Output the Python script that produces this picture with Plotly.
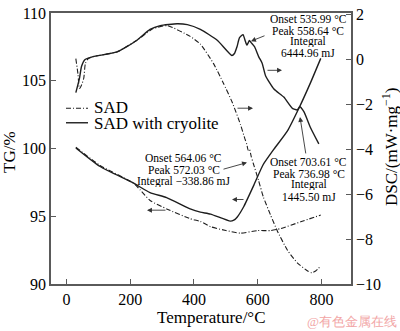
import plotly.graph_objects as go

# ---------------- data ----------------
# DSC, SAD (dash-dot), right axis
sad_dsc_T = [29, 36, 40, 47, 54, 59, 68, 83, 158, 221, 262, 272, 316, 388, 420, 461, 492, 520, 546,
             560, 566, 570, 574, 580, 586, 603, 618, 640, 662, 694, 725, 757, 770, 782, 798]
sad_dsc = [0.02, -0.70, -1.31, -1.15, -0.84, -0.19, 0.02, 0.11, 0.32, 0.84, 1.27, 1.36, 1.49, 1.01, 0.67,
           -0.19, -1.06, -1.92, -2.91, -3.55, -3.80, -4.05, -4.00, -4.35, -4.63, -5.41, -6.14, -6.92,
           -7.65, -8.51, -9.07, -9.42, -9.50, -9.42, -9.20]

# DSC, SAD with cryolite (solid), right axis
cry_dsc_T = [29, 40, 47, 58, 83, 158, 221, 262, 294, 347, 379, 420, 473, 519, 527, 535, 543, 554,
             560, 566, 570, 574, 580, 590, 603, 614, 625, 651, 682, 709, 724, 732, 745, 766, 792]
cry_dsc = [-1.49, -0.88, -0.32, -0.02, 0.11, 0.32, 0.84, 1.32, 1.49, 1.57, 1.53, 1.32, 0.84, 0.16, 0.25,
           0.55, 0.95, 1.09, 0.85, 0.62, 0.72, 0.83, 0.72, 0.55, 0.11, -0.18, -0.75, -1.33, -1.69, -2.19,
           -2.26, -2.12, -2.34, -3.05, -3.77]

# TG, SAD (dash-dot), left axis
sad_tg_T = [29, 105, 209, 231, 262, 316, 388, 420, 452, 500, 546, 599, 640, 672, 735, 798]
sad_tg = [100.09, 98.75, 97.46, 96.95, 96.16, 95.52, 94.82, 94.62, 94.23, 93.95, 93.75, 93.94, 93.94,
          94.09, 94.59, 95.09]

# TG, SAD with cryolite (solid), left axis
cry_tg_T = [29, 105, 209, 262, 314, 388, 420, 452, 514, 525, 536, 556, 588, 617, 651, 693, 729, 766, 798]
cry_tg = [100.04, 98.67, 97.46, 96.74, 96.38, 95.54, 95.30, 95.16, 94.64, 94.71, 94.95, 95.70, 97.30,
          98.80, 99.95, 101.28, 102.95, 104.86, 106.65]

series_names = ["SAD", "SAD with cryolite"]
x_ticks = [0, 200, 400, 600, 800]
tg_ticks = [90, 95, 100, 105, 110]
dsc_ticks = [-10, -8, -6, -4, -2, 0, 2]

# ---------------- styling ----------------
FONT = "Liberation Serif"
INK = "#1e1e1e"
AX = "#5a5a5a"
DASHDOT = "5px,2px,1px,2px"

L, R, T, B = 51, 351, 5, 284  # plot area in pixels


def px(xp):
    return (xp - L) / (R - L)


def py(yp):
    return (B - yp) / (B - T)


fig = go.Figure()
fig.add_trace(go.Scatter(x=sad_dsc_T, y=sad_dsc, mode="lines", name=series_names[0], yaxis="y2",
                         line=dict(color=INK, width=1.1, dash=DASHDOT, shape="spline", smoothing=0.5),
                         showlegend=False))
fig.add_trace(go.Scatter(x=cry_dsc_T, y=cry_dsc, mode="lines", name=series_names[1], yaxis="y2",
                         line=dict(color=INK, width=1.4, shape="spline", smoothing=0.5),
                         showlegend=False))
fig.add_trace(go.Scatter(x=sad_tg_T, y=sad_tg, mode="lines", name=series_names[0], yaxis="y",
                         line=dict(color=INK, width=1.1, dash=DASHDOT, shape="spline", smoothing=0.5),
                         showlegend=False))
fig.add_trace(go.Scatter(x=cry_tg_T, y=cry_tg, mode="lines", name=series_names[1], yaxis="y",
                         line=dict(color=INK, width=1.4, shape="spline", smoothing=0.5),
                         showlegend=False))

axis_common = dict(showgrid=False, zeroline=False, showline=True, linecolor=AX, linewidth=1.5,
                   ticks="inside", ticklen=5, tickcolor=AX, tickwidth=1.2, ticklabeloverflow="allow",
                   tickfont=dict(family=FONT, size=16, color="black"))

fig.update_layout(
    width=400, height=331,
    margin=dict(l=L, r=400 - R, t=T, b=331 - B),
    paper_bgcolor="white", plot_bgcolor="white",
    font=dict(family=FONT, color="black"),
    xaxis=dict(range=[-49, 893], tickvals=x_ticks, mirror=True, **axis_common),
    yaxis=dict(range=[90, 110], tickvals=tg_ticks, **axis_common),
    yaxis2=dict(range=[-10, 2.05], tickvals=dsc_ticks,
                ticktext=[str(v).replace("-", "\u2212") for v in dsc_ticks],
                overlaying="y", side="right", anchor="x", **axis_common),
)

ann = []


def text(xp, yp, s, size=11.5, angle=0, color="black", xanchor="center", height=None):
    a = dict(xref="paper", yref="paper", x=px(xp), y=py(yp), text=s, showarrow=False,
             xanchor=xanchor, yanchor="middle", textangle=angle,
             font=dict(family=FONT, size=size, color=color))
    if height is not None:
        a["height"] = height
        a["valign"] = "middle"
    ann.append(a)


def arrow(hx, hy, tx, ty):
    ann.append(dict(xref="paper", yref="paper", x=px(hx), y=py(hy), ax=tx - hx, ay=ty - hy, text="",
                    showarrow=True, arrowhead=2, arrowsize=1.1, arrowwidth=0.9, arrowcolor="#333"))


# axis titles
text(10, 148, "TG/%", size=17, angle=-90)
text(390, 143, "DSC/(mW·mg<sup>\u22121</sup>)", size=17, angle=-90)
text(211, 319, "Temperature/°C", size=17)

# peak annotations
for yy, s in zip([11, 23, 34.5, 46], ["Onset 535.99 °C", "Peak 558.64 °C", "Integral", "6444.96 mJ"]):
    text(308, yy, s, height=11)
for yy, s in zip([154, 166, 178], ["Onset 564.06 °C", "Peak 572.03 °C", "Integral \u2212338.86 mJ"]):
    text(183.5, yy, s, height=11)
for yy, s in zip([158, 170.5, 182, 193.5], ["Onset 703.61 °C", "Peak 736.98 °C", "Integral", "1445.50 mJ"]):
    text(308.5, yy, s, height=11)

arrow(251, 34, 266, 28)
arrow(247, 159, 222, 166)
arrow(300, 112, 306, 150)
arrow(147, 208, 167, 208)
arrow(232, 197, 245, 197)
arrow(282, 64, 266, 64)
arrow(253, 103, 236, 103)

# legend (drawn manually)
shapes = [
    dict(type="line", xref="paper", yref="paper", x0=px(66), x1=px(88), y0=py(103), y1=py(103),
         line=dict(color=INK, width=1.1, dash=DASHDOT)),
    dict(type="line", xref="paper", yref="paper", x0=px(66), x1=px(88), y0=py(118), y1=py(118),
         line=dict(color=INK, width=1.4)),
]
text(92, 102.5, series_names[0], size=17, xanchor="left")
text(92, 118.5, series_names[1], size=17, xanchor="left")

# watermark
text(352, 323, "@有色金属在线", size=13, color="#f2a6a6")

fig.update_layout(annotations=ann, shapes=shapes)
fig.write_html("out.html")
